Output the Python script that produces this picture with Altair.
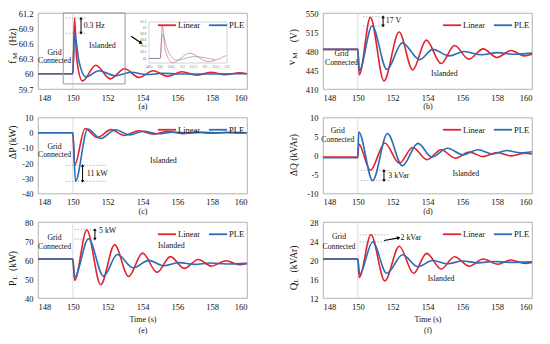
import altair as alt
import pandas as pd

FONT = "Liberation Serif"
RED = "#E1232D"
BLUE = "#2C6DB5"
SERIES = ["Linear", "PLE"]
W, H = 209, 76
XTICKS = [148, 150, 152, 154, 156, 158, 160]

# ---------------- data ----------------
# (a) f_M (Hz)
A_RED_T = [148, 150.0, 150.1, 150.22, 150.55, 151.32, 152.15, 152.97, 153.8, 154.62, 155.45, 156.27, 157.1, 157.92, 158.75, 159.57, 160]
A_RED_V = [60, 60, 61.1, 60.3, 59.86, 60.17, 59.9, 60.1, 59.93, 60.06, 59.95, 60.04, 59.97, 60.03, 59.98, 60.02, 60.0]
A_BLUE_T = [148, 150.0, 150.1, 150.35, 150.75, 151.5, 152.45, 153.35, 154.25, 155.15, 156.1, 160]
A_BLUE_V = [60, 60, 60.8, 60.25, 59.94, 60.06, 59.96, 60.03, 59.985, 60.01, 59.995, 60.0]
A_YTICKS = [59.7, 60, 60.3, 60.6, 60.9, 61.2]
INSET_XTICKS = [149.5, 150, 150.5, 151, 151.5, 152, 152.5, 153]
INSET_YTICKS = [60, 60.2, 60.4, 60.6, 60.8, 61, 61.2]

# (b) v_M (V)
B_RED_T = [148, 150.0, 150.08, 150.72, 151.5, 152.37, 153.15, 153.93, 154.78, 155.55, 156.37, 157.2, 157.98, 158.8, 159.55, 160]
B_RED_V = [483, 483, 436, 542, 425, 515, 445, 500, 457, 490, 465, 484, 468, 481, 471, 474]
B_BLUE_T = [148, 150.0, 150.08, 150.82, 151.67, 152.55, 153.55, 154.3, 155.25, 156.1, 157.1, 158.0, 159.0, 160]
B_BLUE_V = [483, 483, 444, 526, 446, 495, 464, 483, 471, 479, 473, 477, 474, 476]
B_YTICKS = [410, 445, 480, 515, 550]

# (c) dP (kW)
C_RED_T = [148, 150.0, 150.1, 150.7, 151.4, 152.2, 152.95, 153.8, 154.65, 155.45, 156.3, 157.1, 157.9, 158.8, 159.6, 160]
C_RED_V = [0, 0, -21.5, 2.8, -3.2, 2.0, -1.8, 1.3, -1.0, 0.8, -0.6, 0.5, -0.4, 0.3, -0.2, 0]
C_BLUE_T = [148, 150.0, 150.15, 150.85, 151.6, 152.45, 153.25, 154.05, 154.9, 155.75, 156.6, 157.5, 158.4, 159.3, 160]
C_BLUE_V = [0, 0, -32, 2.4, -3.8, 1.9, -1.5, 1.0, -0.7, 0.4, -0.3, 0.2, -0.1, 0.1, 0]
C_YTICKS = [-40, -30, -20, -10, 0, 10]

# (d) dQ (kVAr)
D_RED_T = [148, 150.0, 150.05, 150.72, 151.55, 152.38, 153.15, 153.97, 154.78, 155.6, 156.4, 157.2, 158.0, 158.8, 159.6, 160]
D_RED_V = [-0.4, -0.4, 3.0, -3.9, 3.3, -2.0, 2.1, -1.1, 1.5, -0.7, 0.9, -0.3, 0.8, -0.1, 0.6, 0.4]
D_BLUE_T = [148, 150.0, 150.05, 150.85, 151.7, 152.55, 153.45, 154.25, 155.15, 156.03, 156.9, 157.75, 158.55, 159.35, 160]
D_BLUE_V = [-0.6, -0.6, 6.2, -6.6, 5.8, -2.7, 3.2, -0.4, 1.9, 0.2, 1.5, 0.4, 1.3, 0.7, 1.0]
D_YTICKS = [-10, -5, 0, 5, 10]

# (e) P_L (kW)
E_RED_T = [148, 150.0, 150.1, 150.8, 151.6, 152.4, 153.2, 154.0, 154.84, 155.6, 156.4, 157.2, 157.95, 158.8, 159.55, 160]
E_RED_V = [60.5, 60.5, 49.3, 75.8, 47.0, 68.0, 51.3, 63.6, 53.5, 61.8, 55.6, 60.3, 56.8, 59.6, 57.5, 58.2]
E_BLUE_T = [148, 150.0, 150.1, 150.9, 151.76, 152.56, 153.47, 154.36, 155.2, 156.1, 157.0, 157.9, 158.8, 160]
E_BLUE_V = [60.5, 60.5, 51.0, 71.2, 51.5, 62.9, 55.9, 59.8, 57.0, 58.6, 57.7, 58.4, 57.9, 58.2]
E_YTICKS = [40, 50, 60, 70, 80]

# (f) Q_L (kVAr)
F_RED_T = [148, 150.0, 150.08, 150.75, 151.55, 152.38, 153.2, 153.95, 154.78, 155.55, 156.4, 157.2, 158.04, 158.77, 159.6, 160]
F_RED_V = [20.2, 20.2, 16.3, 25.3, 15.6, 22.9, 17.2, 21.4, 18.1, 20.7, 18.7, 20.2, 19.1, 20.0, 19.3, 19.5]
F_BLUE_T = [148, 150.0, 150.1, 150.85, 151.66, 152.57, 153.44, 154.3, 155.16, 156.0, 156.9, 157.8, 158.7, 160]
F_BLUE_V = [20.2, 20.2, 17.0, 23.8, 17.2, 21.1, 18.6, 19.9, 19.2, 19.8, 19.4, 19.7, 19.5, 19.6]
F_YTICKS = [12, 16, 20, 24, 28]


def series_df(rt, rv, bt, bv):
    return pd.DataFrame({"t": list(rt) + list(bt), "v": list(rv) + list(bv),
                         "s": [SERIES[0]] * len(rt) + [SERIES[1]] * len(bt)})


AXC = dict(labelFont=FONT, labelFontSize=8.5, labelColor="#111", ticks=False, tickSize=0,
           domain=False, grid=False, labelExpr="'' + datum.value")


def make_panel(df, ydom, yticks, xtitle, ytitle, grid_xy, isl_xy, note, gap, extra=None, tpad=1):
    xs = alt.Scale(domain=[148, 160], nice=False)
    ys = alt.Scale(domain=ydom, nice=False, zero=False)
    xax = alt.Axis(values=XTICKS, title=xtitle, titleFont=FONT, titleFontSize=8, titleFontWeight="normal",
                   titleColor="#111", titlePadding=tpad, titleLineHeight=11, labelPadding=4, **AXC)
    yax = alt.Axis(values=yticks, title=None, labelPadding=5, **AXC)
    X = alt.X("t:Q", scale=xs, axis=xax)
    Y = alt.Y("v:Q", scale=ys, axis=yax)

    layers = []
    # switching instant
    layers.append(alt.Chart(pd.DataFrame({"t": [150]})).mark_rule(color="#d2d2d2", strokeWidth=0.8).encode(x=X))
    # dotted guide lines
    g = pd.DataFrame({"t": [gap["t0"]] * 2, "t2": [gap["t1"]] * 2, "v": gap["vals"]})
    layers.append(alt.Chart(g).mark_rule(color="#9a9a9a", strokeWidth=0.7, strokeDash=[1.5, 1.5]).encode(
        x=X, x2="t2:Q", y=Y))
    # curves
    layers.append(alt.Chart(df).mark_line(interpolate="monotone", strokeWidth=1.6).encode(
        x=X, y=Y,
        color=alt.Color("s:N", scale=alt.Scale(domain=SERIES, range=[RED, BLUE]),
                        legend=alt.Legend(orient="top-right", direction="horizontal", title=None,
                                          symbolType="M-1,0H1", symbolSize=330, symbolStrokeWidth=1.8,
                                          symbolFillColor="transparent",
                                          labelFont=FONT, labelFontSize=8.5, labelColor="#111",
                                          offset=2, padding=0, columnPadding=4, labelOffset=1))))
    # double arrow
    if gap.get("arrow_x") is not None:
        lo, hi = min(gap["vals"]), max(gap["vals"])
        ar = pd.DataFrame({"t": [gap["arrow_x"]], "v": [lo], "v2": [hi]})
        layers.append(alt.Chart(ar).mark_rule(color="black", strokeWidth=1).encode(x=X, y=Y, y2="v2:Q"))
        hd = pd.DataFrame({"t": [gap["arrow_x"]] * 2, "v": [hi, lo], "shape": ["triangle-up", "triangle-down"]})
        layers.append(alt.Chart(hd).mark_point(filled=True, size=11, color="black", opacity=1).encode(
            x=X, y=Y, shape=alt.Shape("shape:N", scale=None)))
    # texts
    gt = pd.DataFrame({"t": [grid_xy[0]] * 2, "v": grid_xy[1], "label": ["Grid", "Connected"]})
    layers.append(alt.Chart(gt).mark_text(font=FONT, fontSize=7.7, color="#111").encode(x=X, y=Y, text="label:N"))
    it = pd.DataFrame({"t": [isl_xy[0]], "v": [isl_xy[1]], "label": ["Islanded"]})
    layers.append(alt.Chart(it).mark_text(font=FONT, fontSize=7.9, color="#111").encode(x=X, y=Y, text="label:N"))
    nt = pd.DataFrame({"t": [note[0]], "v": [note[1]], "label": [note[2]]})
    layers.append(alt.Chart(nt).mark_text(font=FONT, fontSize=7.9, color="#111", align="left").encode(
        x=X, y=Y, text="label:N"))
    # y title pieces (pixel positions relative to plot)
    for txt, px, py, fs in ytitle:
        layers.append(alt.Chart(pd.DataFrame({"label": [txt]})).mark_text(
            angle=270, font=FONT, fontSize=fs, color="#111").encode(
            x=alt.value(px), y=alt.value(py), text="label:N"))
    if extra is not None:
        layers.extend(extra(X, Y))
    return alt.layer(*layers)


def single_arrow(X, Y, t0, v0, t1, v1, ang):
    a = pd.DataFrame({"t": [t0], "v": [v0], "t2": [t1], "v2": [v1]})
    r = alt.Chart(a).mark_rule(color="black", strokeWidth=1.2).encode(x=X, y=Y, x2="t2:Q", y2="v2:Q")
    h = pd.DataFrame({"t": [t1], "v": [v1]})
    p = alt.Chart(h).mark_point(shape="triangle-right", filled=True, size=16, color="black", opacity=1,
                                angle=ang).encode(x=X, y=Y)
    return [r, p]


def a_extra(X, Y):
    box = pd.DataFrame({"t": [149.45], "t2": [153.0], "v": [59.8], "v2": [61.2]})
    out = [alt.Chart(box).mark_rect(filled=False, stroke="#9a9a9a", strokeWidth=1).encode(
        x=X, x2="t2:Q", y=Y, y2="v2:Q")]
    out += single_arrow(X, Y, 153.35, 60.74, 153.92, 60.61, 29)
    return out


dfa = series_df(A_RED_T, A_RED_V, A_BLUE_T, A_BLUE_V)
main_a = make_panel(dfa, [59.7, 61.2], A_YTICKS, "(a)",
                    [("f", -25.5, 49, 9.8), ("M", -22.9, 43, 7), ("(Hz)", -25.5, 24, 9.5)],
                    (148.95, [60.42, 60.25]), (151.7, 60.54), (150.62, 60.95, "0.3 Hz"),
                    {"t0": 149.6, "t1": 150.75, "vals": [61.1, 60.8], "arrow_x": 150.47}, a_extra)

# inset of panel (a)
ixs = alt.Scale(domain=[149.5, 153], range=[111, 189], nice=False)
iys = alt.Scale(domain=[59.85, 61.2], range=[50, 9], nice=False, zero=False)
IX = alt.X("tc:Q", scale=ixs, axis=None)
IY = alt.Y("v:Q", scale=iys, axis=None)
ibox = alt.Chart(pd.DataFrame({"tc": [149.5], "t2": [153.0], "v": [59.85], "v2": [61.2]})).mark_rect(
    filled=False, stroke="#b5b5b5", strokeWidth=0.6).encode(x=IX, x2="t2:Q", y=IY, y2="v2:Q")
inset_lines = []
for name, col in zip(SERIES, [RED, BLUE]):
    inset_lines.append(alt.Chart(dfa).transform_filter(
        (alt.datum.s == name) & (alt.datum.t <= 153.0)).transform_calculate(
        tc="max(datum.t, 149.5)").mark_line(interpolate="monotone", strokeWidth=0.8, color=col, opacity=0.6).encode(
        x=IX, y=IY))
ixl = alt.Chart(pd.DataFrame({"tc": INSET_XTICKS, "v": [59.72] * len(INSET_XTICKS)})).transform_calculate(
    lab="'' + datum.tc").mark_text(font=FONT, fontSize=3.3, color="#666").encode(x=IX, y=IY, text="lab:N")
iyl = alt.Chart(pd.DataFrame({"tc": [149.38] * len(INSET_YTICKS), "v": INSET_YTICKS})).transform_calculate(
    lab="'' + datum.v").mark_text(font=FONT, fontSize=3.3, color="#666", align="right").encode(
    x=IX, y=IY, text="lab:N")
inset = alt.layer(ibox, *inset_lines, ixl, iyl)
pa = alt.layer(main_a, inset).resolve_scale(x="independent", y="independent").properties(width=W, height=H)

pb = make_panel(series_df(B_RED_T, B_RED_V, B_BLUE_T, B_BLUE_V), [410, 550], B_YTICKS, "(b)",
                [("v", -31.5, 49.5, 10.5), ("M", -28.3, 42.7, 7), ("(V)", -29, 22.7, 9.5)],
                (149.06, [474, 458]), (154.97, 437), (151.6, 534.5, "17 V"),
                {"t0": 150.3, "t1": 151.55, "vals": [543, 526], "arrow_x": 151.45}).properties(width=W, height=H)

pc = make_panel(series_df(C_RED_T, C_RED_V, C_BLUE_T, C_BLUE_V), [-40, 10], C_YTICKS, "(c)",
                [("ΔP (kW)", -25.5, 24.7, 9.5)],
                (148.95, [-9.6, -14.7]), (155.2, -18.9), (150.8, -27.3, "11 kW"),
                {"t0": 149.6, "t1": 151.9, "vals": [-21.5, -32], "arrow_x": 150.56}).properties(width=W, height=H)

pd_ = make_panel(series_df(D_RED_T, D_RED_V, D_BLUE_T, D_BLUE_V), [-10, 10], D_YTICKS, "(d)",
                 [("ΔQ (kVAr)", -29, 37.5, 9.5)],
                 (148.85, [6.4, 4.0]), (156.2, -4.9), (151.75, -5.4, "3 kVar"),
                 {"t0": 150.17, "t1": 151.9, "vals": [-3.9, -6.6], "arrow_x": 151.5}).properties(width=W, height=H)

pe = make_panel(series_df(E_RED_T, E_RED_V, E_BLUE_T, E_BLUE_V), [40, 80], E_YTICKS, ["Time (s)", "(e)"],
                [("P", -25.5, 61.3, 9.8), ("L", -23.2, 55.3, 7), ("(kW)", -25.5, 39, 9.5)],
                (148.95, [71.4, 67.0]), (155.65, 67.6), (151.5, 75.3, "5 kW"),
                {"t0": 150.1, "t1": 151.25, "vals": [76, 71], "arrow_x": 151.27}, tpad=5).properties(width=W, height=H)


def f_extra(X, Y):
    return single_arrow(X, Y, 151.5, 24.1, 152.35, 24.65, 350)


pf = make_panel(series_df(F_RED_T, F_RED_V, F_BLUE_T, F_BLUE_V), [12, 28], F_YTICKS, ["Time (s)", "(f)"],
                [("Q", -29.3, 64.5, 10.5), ("L", -26.8, 58.3, 7), ("(kVAr)", -28.7, 37, 9.5)],
                (148.92, [24.9, 22.8]), (154.78, 16.1), (152.45, 24.7, "2 kVar"),
                {"t0": 150.1, "t1": 151.8, "vals": [25.3, 23.8]}, f_extra, tpad=5).properties(width=W, height=H)

chart = alt.concat(pa, pb, pc, pd_, pe, pf, columns=2, spacing={"row": 1.5, "column": 35}).resolve_scale(
    x="independent", y="independent", color="independent").resolve_legend(color="independent").properties(
    padding={"left": -1, "top": 0, "right": 0, "bottom": 0}, background="white").configure_view(
    stroke="#a0a0a0", strokeWidth=0.8)

chart.save("out.html", embed_options={"renderer": "svg", "actions": False})
